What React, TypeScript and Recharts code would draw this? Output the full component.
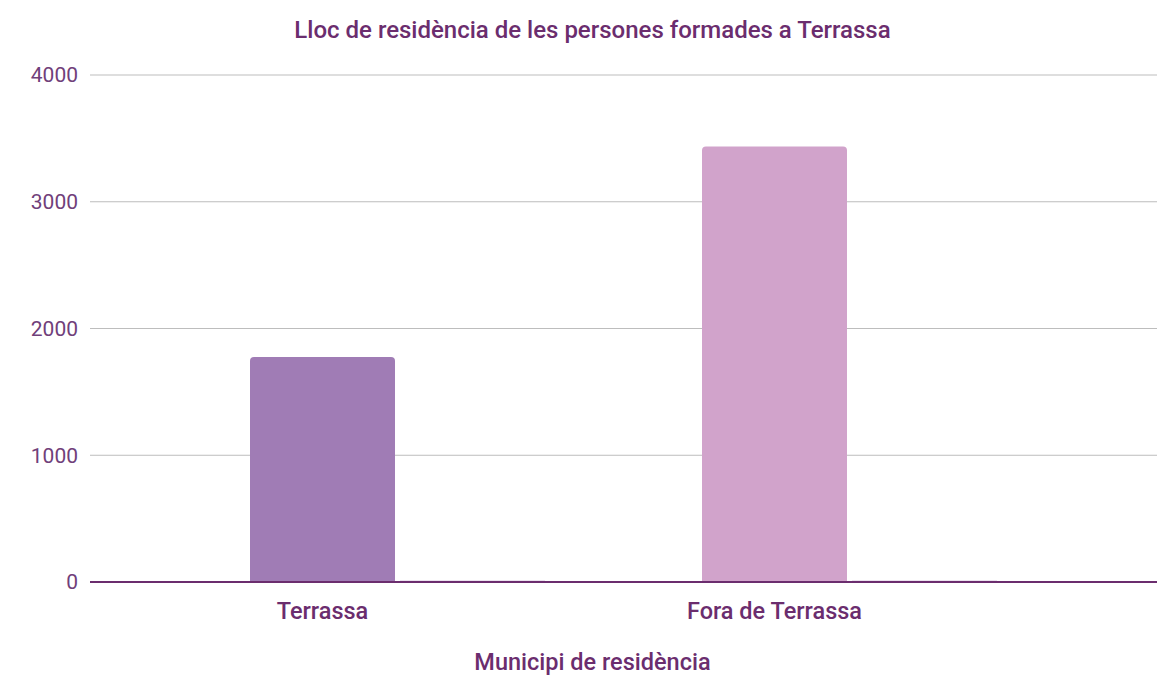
import React from "react";
import { BarChart, Bar, XAxis, YAxis, CartesianGrid, Label, Cell } from "recharts";

const categories = ["Terrassa", "Fora de Terrassa"];
const persones = [1775, 3435];
const altres = [12, 12];
const barColors = ["#a07cb5", "#d1a3cb"];
const yTicks = [0, 1000, 2000, 3000, 4000];

const data = categories.map((c, i) => ({ name: c, persones: persones[i], altres: altres[i] }));

const PURPLE = "#6b2d6e";
const TICK = "#70407a";

const XTick = (props: any) => {
  const { x, y, payload } = props;
  return (
    <text
      x={x - 74.5}
      y={y + 29}
      textAnchor="middle"
      fill={PURPLE}
      fontFamily="Roboto"
      fontWeight={500}
      fontSize={23.5}
    >
      {payload.value}
    </text>
  );
};

export default function App() {
  return (
    <div style={{ position: "absolute", left: 0, top: 0, width: 1167, height: 675, background: "#fff" }}>
      <div
        style={{
          position: "absolute",
          left: 0,
          top: 15,
          width: 1185,
          textAlign: "center",
          fontFamily: "Roboto",
          fontWeight: 500,
          fontSize: 24,
          color: PURPLE,
          lineHeight: "30px",
        }}
      >
        Lloc de residència de les persones formades a Terrassa
      </div>
      <BarChart
        width={1167}
        height={675}
        data={data}
        margin={{ top: 75, right: 10, bottom: 0, left: 0 }}
        barCategoryGap={79}
        barGap={5}
      >
        <CartesianGrid vertical={false} stroke="#bdbdbd" strokeWidth={1} />
        <YAxis
          width={90}
          domain={[0, 4000]}
          ticks={yTicks}
          axisLine={false}
          tickLine={false}
          tickSize={0}
          tickMargin={12}
          tick={{ fill: TICK, fontFamily: "Roboto", fontSize: 21 }}
        />
        <XAxis
          dataKey="name"
          height={93}
          padding={{ left: 81, right: 82 }}
          axisLine={{ stroke: PURPLE, strokeWidth: 2 }}
          tickLine={false}
          tick={<XTick />}
          interval={0}
        >
          <Label
            value="Municipi de residència"
            position="insideBottom"
            offset={5}
            dx={-31}
            fill={PURPLE}
            fontFamily="Roboto"
            fontWeight={500}
            fontSize={23.5}
          />
        </XAxis>
        <Bar dataKey="persones" radius={[4, 4, 0, 0]} isAnimationActive={false}>
          {data.map((d, i) => (
            <Cell key={i} fill={barColors[i]} />
          ))}
        </Bar>
        <Bar dataKey="altres" fill="#d9c8e0" isAnimationActive={false} />
      </BarChart>
    </div>
  );
}
